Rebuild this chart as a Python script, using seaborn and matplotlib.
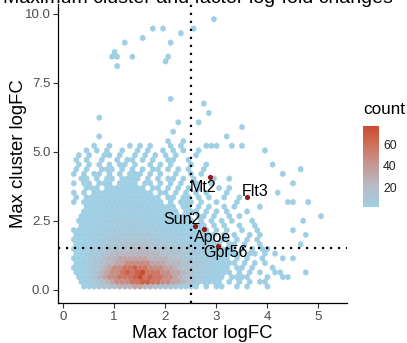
import numpy as np
import pandas as pd
import seaborn as sns
import matplotlib
matplotlib.use("Agg")
import matplotlib.pyplot as plt
from matplotlib.colors import LinearSegmentedColormap

# Hexagon lattice used for binning the genes: x step 0.1, row step 0.17,
# odd rows shifted right by half a step.
HEX_X0, HEX_DX, HEX_NX = 0.21, 0.1, 51
HEX_Y0, HEX_DY, HEX_NROWS = 0.12, 0.17, 58

# Gene count per hexagon, coded by one character
COUNT_CODES = {'.': 0, '1': 1, '2': 3, '3': 6, '4': 10, '5': 16, '6': 24,
               '7': 34, '8': 46, '9': 58, 'A': 68, 'B': 78}

# One string per lattice row, bottom row first
hex_rows = [
    "..12344556667766554432211.1.11..1.1...1",
    ".123456788899AA99887765432211.1.1.1..1",
    ".12346788999AB9A99887654332211.11.1...1",
    "1123467889A9AB99988776543322111.1.1.1..1",
    "112345678899A998887765544332211.11.1...1",
    "11234566778888877766655443322111.1.1.1",
    "1123445667777776666555443332211.1.1..1",
    "112334556666666665555444333222111.11.1.1",
    "11223445555566655554444333322211.1.1.11",
    "11223344455555544443333222111.11.1..1",
    "1112233444444444433332222111.11.1.1.1",
    "1112233344444443333222221111.1.1..1.1",
    "111122333333333332222211111.1.1..1..1",
    ".1112222333333332222211111.1.1..1..1",
    ".11112223333332222211111.1.1.1.1...1",
    ".1111222222222222111111.11.1..1.1",
    "..1112222222222211111.111.1.1.1...1",
    "..111122222222211111.11.1.1..1.1....1",
    "1.1111122222211111.1.111.1..1...1",
    "1.111111222211111.11.11.1.1..1..1",
    "1.1.111112111111.11.1.1.1.1...1",
    "..111.11111111.11.1.1.1.1...1.1",
    "1.11.111.1111.11.1.1.1..1..1",
    ".11.1.11.1111.1.1.11.1.1...1..1",
    "1.1.11.1.1.111.1.1..1..1.1",
    "1.1..111.1.1.1.11.1.1.1..1",
    ".1.1.1.1.11.1..1.1.1...1..1",
    "1.1..1..1.11.1.1..11..1",
    ".1.1..11.1..1.1.1.1.1...1",
    "..1.1.1..1..1.1..1.1.1..1",
    "....1..1...1.1.1...1.1....111..1.1",
]

# Isolated single genes away from the main cloud
sparse_x = [2.96, 1.75, 1.95, 2.31, 2.56, 1.54, 1.18, 2.10, 0.97, 0.92, 1.02,
            1.03, 1.33, 2.05, 2.00, 2.10, 2.76, 2.87, 0.68, 2.26, 2.67, 2.16,
            0.67, 3.52, 3.22, 2.05, 2.36,
            4.52, 4.25, 4.41, 4.51, 4.86, 5.32, 5.02, 4.70, 4.48, 4.81, 4.71,
            4.29, 4.50, 4.81, 4.35, 4.45, 4.22, 3.86, 3.47, 4.10, 4.30, 4.62,
            3.95]
sparse_y = [9.76, 9.45, 9.45, 9.26, 9.45, 9.12, 8.94, 8.94, 8.58, 8.43, 8.43,
            8.09, 8.43, 8.43, 8.25, 6.91, 6.74, 6.40, 6.24, 6.07, 6.07, 5.74,
            5.55, 5.89, 5.55, 5.41, 5.41,
            3.92, 3.53, 3.20, 3.20, 3.23, 3.04, 2.69, 2.45, 2.17, 2.03, 1.69,
            1.05, 1.05, 0.66, 0.48, 0.48, 0.66, 0.18, 0.48, 4.60, 4.20, 4.40,
            5.00]

# Highlighted genes
genes = ["Mt2", "Flt3", "Sun2", "Apoe", "Gpr56"]
gene_factor_fc = [2.88, 3.61, 2.59, 2.76, 3.03]
gene_cluster_fc = [4.10, 3.38, 2.31, 2.21, 1.60]
# label offsets from each gene's point, in points
label_dx = [-5.0, 6.0, -9.4, 6.1, 5.9]
label_dy = [-10.8, 0.5, 1.7, -9.4, -8.1]

factor_cutoff = 2.5
cluster_cutoff = 1.5

x_ticks = [0, 1, 2, 3, 4, 5]
y_ticks = [0.0, 2.5, 5.0, 7.5, 10.0]
legend_ticks = [20, 40, 60]

# ---- build the binned table ----
cell_x, cell_y, cell_n = [], [], []
for r, row in enumerate(hex_rows):
    for i, ch in enumerate(row):
        n = COUNT_CODES[ch]
        if n:
            cell_x.append(HEX_X0 + HEX_DX * (i + 0.5 * (r % 2)))
            cell_y.append(HEX_Y0 + HEX_DY * r)
            cell_n.append(n)
cells = pd.DataFrame({"factor": cell_x + sparse_x,
                      "cluster": cell_y + sparse_y,
                      "n": cell_n + [1] * len(sparse_x)})
highlight = pd.DataFrame({"gene": genes, "factor": gene_factor_fc,
                          "cluster": gene_cluster_fc})

sns.set_theme(style="ticks")
plt.rcParams["font.family"] = ["Liberation Sans", "DejaVu Sans"]

fig = plt.figure(figsize=(4.07, 3.43), dpi=100)
ax = fig.add_axes([58 / 407, 1 - 303 / 343, 289 / 407, 298.7 / 343])

cmap = LinearSegmentedColormap.from_list(
    "count", ["#9ECFE4", "#B7BCC8", "#C49A98", "#CC7460", "#CD4A30"])

hb = ax.hexbin(cells["factor"], cells["cluster"], C=cells["n"],
               reduce_C_function=np.sum,
               gridsize=(HEX_NX, HEX_NROWS // 2),
               extent=(HEX_X0, HEX_X0 + HEX_NX * HEX_DX,
                       HEX_Y0, HEX_Y0 + HEX_NROWS * HEX_DY),
               cmap=cmap, vmin=1, vmax=78,
               edgecolors="face", linewidths=0.2, zorder=1)

ax.axvline(factor_cutoff, color="black", lw=1.6, ls=(0, (1, 2.6)), zorder=2)
ax.axhline(cluster_cutoff, color="black", lw=1.6, ls=(0, (1, 2.6)), zorder=2)

sns.scatterplot(data=highlight, x="factor", y="cluster", ax=ax,
                color="#8E1B1B", s=14, linewidth=0, zorder=3, legend=False)
for g, gx, gy, dx, dy in zip(genes, gene_factor_fc, gene_cluster_fc,
                             label_dx, label_dy):
    ax.annotate(g, (gx, gy), xytext=(dx, dy), textcoords="offset points",
                ha="center", va="baseline", fontsize=11.5, color="black",
                zorder=4)

ax.set_xlim(-0.1, 5.57)
ax.set_ylim(-0.48, 10.35)
ax.set_xticks(x_ticks)
ax.set_xticklabels([str(t) for t in x_ticks])
ax.set_yticks(y_ticks)
ax.set_yticklabels([f"{t:.1f}" for t in y_ticks])
ax.tick_params(axis="both", length=3.5, width=0.8, color="#333333",
               labelsize=9.5, labelcolor="#4D4D4D", pad=2)
ax.grid(False)
sns.despine(ax=ax)
for side in ("left", "bottom"):
    ax.spines[side].set_color("black")
    ax.spines[side].set_linewidth(0.9)

ax.set_xlabel("Max factor logFC", fontsize=13.3, color="black")
ax.set_ylabel("Max cluster logFC", fontsize=13.3, color="black")
ax.xaxis.set_label_coords(0.5, -0.072)
ax.yaxis.set_label_coords(-0.107, 0.5)

# colour bar legend
cax = fig.add_axes([363 / 407, 1 - 207 / 343, 16 / 407, 81 / 343])
cb = fig.colorbar(hb, cax=cax, ticks=legend_ticks)
cb.outline.set_visible(False)
cax.tick_params(which="both", left=True, right=True, direction="in",
                length=3, width=0.8, color="white", labelsize=8.8,
                labelcolor="#222222", pad=3)
cax.minorticks_off()
fig.text(363 / 407, 1 - 110 / 343, "count", ha="left", va="center",
         fontsize=12.3, color="black")

fig.text(393 / 407, 1 - 3 / 343, "Maximum cluster and factor log-fold changes",
         ha="right", va="baseline", fontsize=14, color="black")

fig.savefig("out.png", dpi=100)
